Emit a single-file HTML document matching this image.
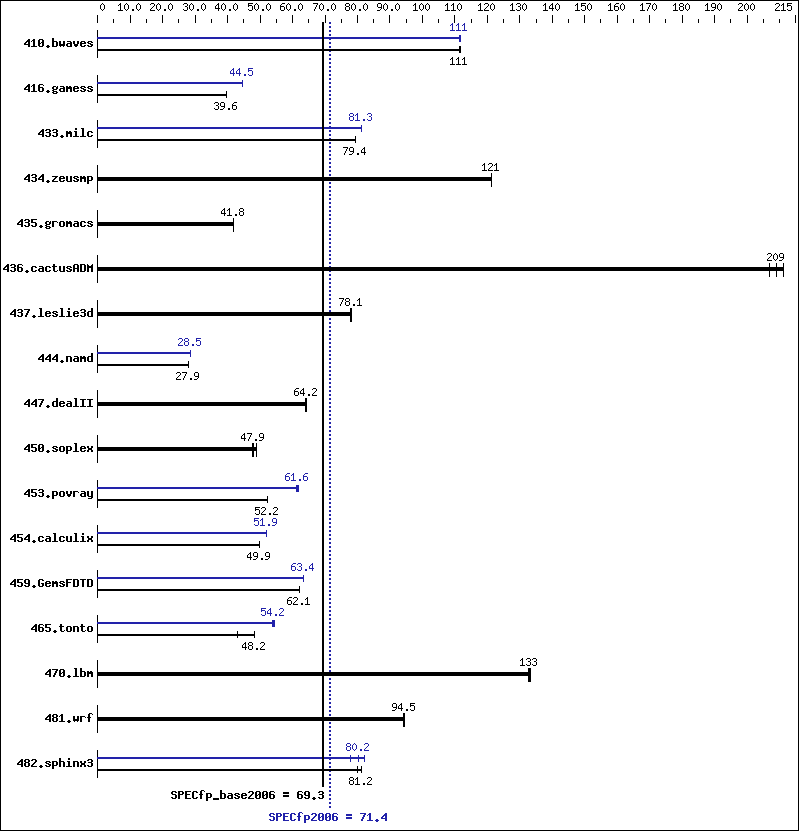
<!DOCTYPE html>
<html lang="en">
<head>
<meta charset="utf-8">
<title>SPECfp2006 result graph</title>
<style>
html,body{margin:0;padding:0;background:#fff;}
body{width:799px;height:831px;overflow:hidden;position:relative;font-family:"Liberation Mono",monospace;}
#chart{position:absolute;left:0;top:0;width:799px;height:831px;box-sizing:border-box;border:1px solid #000;background:#fff;}
#chart svg{position:absolute;left:-1px;top:-1px;display:block;}
#chart span{position:absolute;margin-left:-1px;margin-top:-1px;white-space:pre;color:transparent;line-height:13px;height:13px;}
.ts{font-size:10px;}
.tb{font-size:11.66px;font-weight:bold;}
</style>
</head>
<body>
<div id="chart">
<svg width="799" height="831" viewBox="0 0 799 831" shape-rendering="crispEdges">
<defs>
<path id="s0" d="M2 2h1v1h-1zM1 3h1v1h-1zM3 3h1v1h-1zM0 4h1v1h-1zM4 4h1v1h-1zM0 5h1v1h-1zM4 5h1v1h-1zM0 6h1v1h-1zM4 6h1v1h-1zM0 7h1v1h-1zM4 7h1v1h-1zM1 8h1v1h-1zM3 8h1v1h-1zM2 9h1v1h-1z"/>
<path id="s1" d="M2 2h1v1h-1zM1 3h2v1h-2zM0 4h1v1h-1zM2 4h1v1h-1zM2 5h1v1h-1zM2 6h1v1h-1zM2 7h1v1h-1zM2 8h1v1h-1zM0 9h5v1h-5z"/>
<path id="s2" d="M2 8h2v1h-2zM2 9h2v1h-2z"/>
<path id="s3" d="M1 2h3v1h-3zM0 3h1v1h-1zM4 3h1v1h-1zM4 4h1v1h-1zM3 5h1v1h-1zM2 6h1v1h-1zM1 7h1v1h-1zM0 8h1v1h-1zM0 9h5v1h-5z"/>
<path id="s4" d="M1 2h3v1h-3zM0 3h1v1h-1zM4 3h1v1h-1zM4 4h1v1h-1zM2 5h2v1h-2zM4 6h1v1h-1zM4 7h1v1h-1zM0 8h1v1h-1zM4 8h1v1h-1zM1 9h3v1h-3z"/>
<path id="s5" d="M3 2h1v1h-1zM2 3h2v1h-2zM1 4h1v1h-1zM3 4h1v1h-1zM0 5h1v1h-1zM3 5h1v1h-1zM0 6h1v1h-1zM3 6h1v1h-1zM0 7h5v1h-5zM3 8h1v1h-1zM3 9h1v1h-1z"/>
<path id="s6" d="M0 2h5v1h-5zM0 3h1v1h-1zM0 4h4v1h-4zM0 5h1v1h-1zM4 5h1v1h-1zM4 6h1v1h-1zM4 7h1v1h-1zM0 8h1v1h-1zM4 8h1v1h-1zM1 9h3v1h-3z"/>
<path id="s7" d="M2 2h3v1h-3zM1 3h1v1h-1zM0 4h1v1h-1zM0 5h4v1h-4zM0 6h1v1h-1zM4 6h1v1h-1zM0 7h1v1h-1zM4 7h1v1h-1zM0 8h1v1h-1zM4 8h1v1h-1zM1 9h3v1h-3z"/>
<path id="s8" d="M0 2h5v1h-5zM4 3h1v1h-1zM3 4h1v1h-1zM3 5h1v1h-1zM2 6h1v1h-1zM2 7h1v1h-1zM1 8h1v1h-1zM1 9h1v1h-1z"/>
<path id="s9" d="M1 2h3v1h-3zM0 3h1v1h-1zM4 3h1v1h-1zM0 4h1v1h-1zM4 4h1v1h-1zM1 5h3v1h-3zM0 6h1v1h-1zM4 6h1v1h-1zM0 7h1v1h-1zM4 7h1v1h-1zM0 8h1v1h-1zM4 8h1v1h-1zM1 9h3v1h-3z"/>
<path id="s10" d="M1 2h3v1h-3zM0 3h1v1h-1zM4 3h1v1h-1zM0 4h1v1h-1zM4 4h1v1h-1zM0 5h1v1h-1zM4 5h1v1h-1zM1 6h4v1h-4zM4 7h1v1h-1zM3 8h1v1h-1zM0 9h3v1h-3z"/>
<path id="b11" d="M4 3h2v1h-2zM3 4h3v1h-3zM2 5h4v1h-4zM1 6h2v1h-2zM4 6h2v1h-2zM0 7h2v1h-2zM4 7h2v1h-2zM0 8h6v1h-6zM4 9h2v1h-2zM4 10h2v1h-2z"/>
<path id="b12" d="M2 3h2v1h-2zM1 4h3v1h-3zM0 5h1v1h-1zM2 5h2v1h-2zM2 6h2v1h-2zM2 7h2v1h-2zM2 8h2v1h-2zM2 9h2v1h-2zM0 10h6v1h-6z"/>
<path id="b13" d="M1 3h4v1h-4zM0 4h2v1h-2zM4 4h2v1h-2zM0 5h2v1h-2zM4 5h2v1h-2zM0 6h2v1h-2zM3 6h3v1h-3zM0 7h3v1h-3zM4 7h2v1h-2zM0 8h2v1h-2zM4 8h2v1h-2zM0 9h2v1h-2zM4 9h2v1h-2zM1 10h4v1h-4z"/>
<path id="b14" d="M2 9h2v1h-2zM1 10h4v1h-4zM2 11h2v1h-2z"/>
<path id="b15" d="M0 2h2v1h-2zM0 3h2v1h-2zM0 4h2v1h-2zM0 5h5v1h-5zM0 6h2v1h-2zM4 6h2v1h-2zM0 7h2v1h-2zM4 7h2v1h-2zM0 8h2v1h-2zM4 8h2v1h-2zM0 9h2v1h-2zM4 9h2v1h-2zM0 10h5v1h-5z"/>
<path id="b16" d="M0 5h2v1h-2zM4 5h2v1h-2zM0 6h2v1h-2zM4 6h2v1h-2zM0 7h2v1h-2zM4 7h2v1h-2zM0 8h6v1h-6zM0 9h6v1h-6zM1 10h1v1h-1zM4 10h1v1h-1z"/>
<path id="b17" d="M1 5h4v1h-4zM4 6h2v1h-2zM1 7h5v1h-5zM0 8h2v1h-2zM4 8h2v1h-2zM0 9h2v1h-2zM4 9h2v1h-2zM1 10h5v1h-5z"/>
<path id="b18" d="M0 5h2v1h-2zM4 5h2v1h-2zM0 6h2v1h-2zM4 6h2v1h-2zM0 7h2v1h-2zM4 7h2v1h-2zM1 8h4v1h-4zM1 9h4v1h-4zM2 10h2v1h-2z"/>
<path id="b19" d="M1 5h4v1h-4zM0 6h2v1h-2zM4 6h2v1h-2zM0 7h6v1h-6zM0 8h2v1h-2zM0 9h2v1h-2zM4 9h2v1h-2zM1 10h4v1h-4z"/>
<path id="b20" d="M1 5h4v1h-4zM0 6h2v1h-2zM4 6h2v1h-2zM1 7h3v1h-3zM3 8h3v1h-3zM0 9h2v1h-2zM4 9h2v1h-2zM1 10h4v1h-4z"/>
<path id="b21" d="M1 3h4v1h-4zM0 4h2v1h-2zM5 4h1v1h-1zM0 5h2v1h-2zM0 6h5v1h-5zM0 7h2v1h-2zM4 7h2v1h-2zM0 8h2v1h-2zM4 8h2v1h-2zM0 9h2v1h-2zM4 9h2v1h-2zM1 10h4v1h-4z"/>
<path id="b22" d="M1 5h3v1h-3zM5 5h1v1h-1zM0 6h2v1h-2zM4 6h2v1h-2zM0 7h2v1h-2zM4 7h2v1h-2zM1 8h4v1h-4zM0 9h2v1h-2zM1 10h4v1h-4zM0 11h2v1h-2zM4 11h2v1h-2zM1 12h4v1h-4z"/>
<path id="b23" d="M0 5h2v1h-2zM3 5h2v1h-2zM0 6h6v1h-6zM0 7h6v1h-6zM0 8h2v1h-2zM4 8h2v1h-2zM0 9h2v1h-2zM4 9h2v1h-2zM0 10h2v1h-2zM4 10h2v1h-2z"/>
<path id="b24" d="M1 3h4v1h-4zM0 4h2v1h-2zM4 4h2v1h-2zM4 5h2v1h-2zM1 6h4v1h-4zM4 7h2v1h-2zM4 8h2v1h-2zM0 9h2v1h-2zM4 9h2v1h-2zM1 10h4v1h-4z"/>
<path id="b25" d="M2 2h2v1h-2zM2 3h2v1h-2zM1 5h3v1h-3zM2 6h2v1h-2zM2 7h2v1h-2zM2 8h2v1h-2zM2 9h2v1h-2zM0 10h6v1h-6z"/>
<path id="b26" d="M1 2h3v1h-3zM2 3h2v1h-2zM2 4h2v1h-2zM2 5h2v1h-2zM2 6h2v1h-2zM2 7h2v1h-2zM2 8h2v1h-2zM2 9h2v1h-2zM0 10h6v1h-6z"/>
<path id="b27" d="M1 5h4v1h-4zM0 6h2v1h-2zM4 6h2v1h-2zM0 7h2v1h-2zM0 8h2v1h-2zM0 9h2v1h-2zM4 9h2v1h-2zM1 10h4v1h-4z"/>
<path id="b28" d="M0 5h6v1h-6zM3 6h2v1h-2zM2 7h2v1h-2zM1 8h2v1h-2zM0 9h2v1h-2zM0 10h6v1h-6z"/>
<path id="b29" d="M0 5h2v1h-2zM4 5h2v1h-2zM0 6h2v1h-2zM4 6h2v1h-2zM0 7h2v1h-2zM4 7h2v1h-2zM0 8h2v1h-2zM4 8h2v1h-2zM0 9h2v1h-2zM4 9h2v1h-2zM1 10h5v1h-5z"/>
<path id="b30" d="M0 5h5v1h-5zM0 6h2v1h-2zM4 6h2v1h-2zM0 7h2v1h-2zM4 7h2v1h-2zM0 8h2v1h-2zM4 8h2v1h-2zM0 9h5v1h-5zM0 10h2v1h-2zM0 11h2v1h-2zM0 12h2v1h-2z"/>
<path id="b31" d="M0 3h6v1h-6zM0 4h2v1h-2zM0 5h2v1h-2zM0 6h5v1h-5zM4 7h2v1h-2zM4 8h2v1h-2zM0 9h2v1h-2zM4 9h2v1h-2zM1 10h4v1h-4z"/>
<path id="b32" d="M0 5h5v1h-5zM0 6h2v1h-2zM5 6h1v1h-1zM0 7h2v1h-2zM0 8h2v1h-2zM0 9h2v1h-2zM0 10h2v1h-2z"/>
<path id="b33" d="M1 5h4v1h-4zM0 6h2v1h-2zM4 6h2v1h-2zM0 7h2v1h-2zM4 7h2v1h-2zM0 8h2v1h-2zM4 8h2v1h-2zM0 9h2v1h-2zM4 9h2v1h-2zM1 10h4v1h-4z"/>
<path id="b34" d="M1 3h2v1h-2zM1 4h2v1h-2zM0 5h5v1h-5zM1 6h2v1h-2zM1 7h2v1h-2zM1 8h2v1h-2zM1 9h2v1h-2zM5 9h1v1h-1zM2 10h3v1h-3z"/>
<path id="b35" d="M1 3h4v1h-4zM0 4h2v1h-2zM4 4h2v1h-2zM0 5h2v1h-2zM4 5h2v1h-2zM0 6h2v1h-2zM4 6h2v1h-2zM0 7h6v1h-6zM0 8h2v1h-2zM4 8h2v1h-2zM0 9h2v1h-2zM4 9h2v1h-2zM0 10h2v1h-2zM4 10h2v1h-2z"/>
<path id="b36" d="M0 3h5v1h-5zM0 4h2v1h-2zM4 4h2v1h-2zM0 5h2v1h-2zM4 5h2v1h-2zM0 6h2v1h-2zM4 6h2v1h-2zM0 7h2v1h-2zM4 7h2v1h-2zM0 8h2v1h-2zM4 8h2v1h-2zM0 9h2v1h-2zM4 9h2v1h-2zM0 10h5v1h-5z"/>
<path id="b37" d="M0 3h1v1h-1zM5 3h1v1h-1zM0 4h2v1h-2zM4 4h2v1h-2zM0 5h6v1h-6zM0 6h6v1h-6zM0 7h2v1h-2zM4 7h2v1h-2zM0 8h2v1h-2zM4 8h2v1h-2zM0 9h2v1h-2zM4 9h2v1h-2zM0 10h2v1h-2zM4 10h2v1h-2z"/>
<path id="b38" d="M0 3h6v1h-6zM4 4h2v1h-2zM3 5h2v1h-2zM3 6h2v1h-2zM2 7h2v1h-2zM2 8h2v1h-2zM1 9h2v1h-2zM1 10h2v1h-2z"/>
<path id="b39" d="M4 2h2v1h-2zM4 3h2v1h-2zM4 4h2v1h-2zM1 5h5v1h-5zM0 6h2v1h-2zM4 6h2v1h-2zM0 7h2v1h-2zM4 7h2v1h-2zM0 8h2v1h-2zM4 8h2v1h-2zM0 9h2v1h-2zM4 9h2v1h-2zM1 10h5v1h-5z"/>
<path id="b40" d="M0 5h5v1h-5zM0 6h2v1h-2zM4 6h2v1h-2zM0 7h2v1h-2zM4 7h2v1h-2zM0 8h2v1h-2zM4 8h2v1h-2zM0 9h2v1h-2zM4 9h2v1h-2zM0 10h2v1h-2zM4 10h2v1h-2z"/>
<path id="b41" d="M0 3h6v1h-6zM2 4h2v1h-2zM2 5h2v1h-2zM2 6h2v1h-2zM2 7h2v1h-2zM2 8h2v1h-2zM2 9h2v1h-2zM0 10h6v1h-6z"/>
<path id="b42" d="M0 5h2v1h-2zM4 5h2v1h-2zM0 6h2v1h-2zM4 6h2v1h-2zM1 7h4v1h-4zM1 8h4v1h-4zM0 9h2v1h-2zM4 9h2v1h-2zM0 10h2v1h-2zM4 10h2v1h-2z"/>
<path id="b43" d="M0 5h2v1h-2zM4 5h2v1h-2zM0 6h2v1h-2zM4 6h2v1h-2zM0 7h2v1h-2zM4 7h2v1h-2zM0 8h2v1h-2zM4 8h2v1h-2zM0 9h2v1h-2zM4 9h2v1h-2zM1 10h5v1h-5zM4 11h2v1h-2zM1 12h4v1h-4z"/>
<path id="b44" d="M1 3h4v1h-4zM0 4h2v1h-2zM4 4h2v1h-2zM0 5h2v1h-2zM4 5h2v1h-2zM0 6h2v1h-2zM4 6h2v1h-2zM1 7h5v1h-5zM4 8h2v1h-2zM0 9h2v1h-2zM4 9h2v1h-2zM1 10h4v1h-4z"/>
<path id="b45" d="M1 3h4v1h-4zM0 4h2v1h-2zM4 4h2v1h-2zM0 5h2v1h-2zM0 6h2v1h-2zM0 7h2v1h-2zM3 7h3v1h-3zM0 8h2v1h-2zM4 8h2v1h-2zM0 9h2v1h-2zM4 9h2v1h-2zM1 10h4v1h-4z"/>
<path id="b46" d="M0 3h6v1h-6zM0 4h2v1h-2zM0 5h2v1h-2zM0 6h5v1h-5zM0 7h2v1h-2zM0 8h2v1h-2zM0 9h2v1h-2zM0 10h2v1h-2z"/>
<path id="b47" d="M0 3h6v1h-6zM2 4h2v1h-2zM2 5h2v1h-2zM2 6h2v1h-2zM2 7h2v1h-2zM2 8h2v1h-2zM2 9h2v1h-2zM2 10h2v1h-2z"/>
<path id="b48" d="M1 3h4v1h-4zM0 4h2v1h-2zM4 4h2v1h-2zM0 5h2v1h-2zM4 5h2v1h-2zM1 6h4v1h-4zM0 7h2v1h-2zM4 7h2v1h-2zM0 8h2v1h-2zM4 8h2v1h-2zM0 9h2v1h-2zM4 9h2v1h-2zM1 10h4v1h-4z"/>
<path id="b49" d="M2 2h3v1h-3zM1 3h2v1h-2zM5 3h1v1h-1zM1 4h2v1h-2zM1 5h2v1h-2zM0 6h4v1h-4zM1 7h2v1h-2zM1 8h2v1h-2zM1 9h2v1h-2zM1 10h2v1h-2z"/>
<path id="b50" d="M1 3h4v1h-4zM0 4h2v1h-2zM4 4h2v1h-2zM4 5h2v1h-2zM3 6h2v1h-2zM2 7h2v1h-2zM1 8h2v1h-2zM0 9h2v1h-2zM0 10h6v1h-6z"/>
<path id="b51" d="M0 2h2v1h-2zM0 3h2v1h-2zM0 4h2v1h-2zM0 5h5v1h-5zM0 6h2v1h-2zM4 6h2v1h-2zM0 7h2v1h-2zM4 7h2v1h-2zM0 8h2v1h-2zM4 8h2v1h-2zM0 9h2v1h-2zM4 9h2v1h-2zM0 10h2v1h-2zM4 10h2v1h-2z"/>
<path id="b52" d="M1 3h4v1h-4zM0 4h2v1h-2zM4 4h2v1h-2zM0 5h2v1h-2zM1 6h4v1h-4zM4 7h2v1h-2zM4 8h2v1h-2zM0 9h2v1h-2zM4 9h2v1h-2zM1 10h4v1h-4z"/>
<path id="b53" d="M0 3h5v1h-5zM0 4h2v1h-2zM4 4h2v1h-2zM0 5h2v1h-2zM4 5h2v1h-2zM0 6h5v1h-5zM0 7h2v1h-2zM0 8h2v1h-2zM0 9h2v1h-2zM0 10h2v1h-2z"/>
<path id="b54" d="M0 3h6v1h-6zM0 4h2v1h-2zM0 5h2v1h-2zM0 6h5v1h-5zM0 7h2v1h-2zM0 8h2v1h-2zM0 9h2v1h-2zM0 10h6v1h-6z"/>
<path id="b55" d="M1 3h4v1h-4zM0 4h2v1h-2zM4 4h2v1h-2zM0 5h2v1h-2zM0 6h2v1h-2zM0 7h2v1h-2zM0 8h2v1h-2zM0 9h2v1h-2zM4 9h2v1h-2zM1 10h4v1h-4z"/>
<path id="b56" d="M0 10h6v1h-6zM0 11h6v1h-6z"/>
<path id="b57" d="M0 4h6v1h-6zM0 5h6v1h-6zM0 7h6v1h-6zM0 8h6v1h-6z"/>
</defs>
<rect x="97" y="15" width="1" height="8" fill="#000000"/>
<g fill="#000000"><use href="#s0" x="100" y="1"/></g>
<rect x="113" y="19" width="1" height="4" fill="#000000"/>
<rect x="130" y="15" width="1" height="8" fill="#000000"/>
<g fill="#000000"><use href="#s1" x="118" y="1"/><use href="#s0" x="124" y="1"/><use href="#s2" x="130" y="1"/><use href="#s0" x="136" y="1"/></g>
<rect x="146" y="19" width="1" height="4" fill="#000000"/>
<rect x="162" y="15" width="1" height="8" fill="#000000"/>
<g fill="#000000"><use href="#s3" x="150" y="1"/><use href="#s0" x="156" y="1"/><use href="#s2" x="162" y="1"/><use href="#s0" x="168" y="1"/></g>
<rect x="178" y="19" width="1" height="4" fill="#000000"/>
<rect x="195" y="15" width="1" height="8" fill="#000000"/>
<g fill="#000000"><use href="#s4" x="183" y="1"/><use href="#s0" x="189" y="1"/><use href="#s2" x="195" y="1"/><use href="#s0" x="201" y="1"/></g>
<rect x="211" y="19" width="1" height="4" fill="#000000"/>
<rect x="227" y="15" width="1" height="8" fill="#000000"/>
<g fill="#000000"><use href="#s5" x="215" y="1"/><use href="#s0" x="221" y="1"/><use href="#s2" x="227" y="1"/><use href="#s0" x="233" y="1"/></g>
<rect x="243" y="19" width="1" height="4" fill="#000000"/>
<rect x="260" y="15" width="1" height="8" fill="#000000"/>
<g fill="#000000"><use href="#s6" x="248" y="1"/><use href="#s0" x="254" y="1"/><use href="#s2" x="260" y="1"/><use href="#s0" x="266" y="1"/></g>
<rect x="276" y="19" width="1" height="4" fill="#000000"/>
<rect x="292" y="15" width="1" height="8" fill="#000000"/>
<g fill="#000000"><use href="#s7" x="280" y="1"/><use href="#s0" x="286" y="1"/><use href="#s2" x="292" y="1"/><use href="#s0" x="298" y="1"/></g>
<rect x="308" y="19" width="1" height="4" fill="#000000"/>
<rect x="325" y="15" width="1" height="8" fill="#000000"/>
<g fill="#000000"><use href="#s8" x="313" y="1"/><use href="#s0" x="319" y="1"/><use href="#s2" x="325" y="1"/><use href="#s0" x="331" y="1"/></g>
<rect x="341" y="19" width="1" height="4" fill="#000000"/>
<rect x="357" y="15" width="1" height="8" fill="#000000"/>
<g fill="#000000"><use href="#s9" x="345" y="1"/><use href="#s0" x="351" y="1"/><use href="#s2" x="357" y="1"/><use href="#s0" x="363" y="1"/></g>
<rect x="373" y="19" width="1" height="4" fill="#000000"/>
<rect x="389" y="15" width="1" height="8" fill="#000000"/>
<g fill="#000000"><use href="#s10" x="377" y="1"/><use href="#s0" x="383" y="1"/><use href="#s2" x="389" y="1"/><use href="#s0" x="395" y="1"/></g>
<rect x="406" y="19" width="1" height="4" fill="#000000"/>
<rect x="422" y="15" width="1" height="8" fill="#000000"/>
<g fill="#000000"><use href="#s1" x="413" y="1"/><use href="#s0" x="419" y="1"/><use href="#s0" x="425" y="1"/></g>
<rect x="438" y="19" width="1" height="4" fill="#000000"/>
<rect x="454" y="15" width="1" height="8" fill="#000000"/>
<g fill="#000000"><use href="#s1" x="445" y="1"/><use href="#s1" x="451" y="1"/><use href="#s0" x="457" y="1"/></g>
<rect x="471" y="19" width="1" height="4" fill="#000000"/>
<rect x="487" y="15" width="1" height="8" fill="#000000"/>
<g fill="#000000"><use href="#s1" x="478" y="1"/><use href="#s3" x="484" y="1"/><use href="#s0" x="490" y="1"/></g>
<rect x="503" y="19" width="1" height="4" fill="#000000"/>
<rect x="519" y="15" width="1" height="8" fill="#000000"/>
<g fill="#000000"><use href="#s1" x="510" y="1"/><use href="#s4" x="516" y="1"/><use href="#s0" x="522" y="1"/></g>
<rect x="536" y="19" width="1" height="4" fill="#000000"/>
<rect x="552" y="15" width="1" height="8" fill="#000000"/>
<g fill="#000000"><use href="#s1" x="543" y="1"/><use href="#s5" x="549" y="1"/><use href="#s0" x="555" y="1"/></g>
<rect x="568" y="19" width="1" height="4" fill="#000000"/>
<rect x="584" y="15" width="1" height="8" fill="#000000"/>
<g fill="#000000"><use href="#s1" x="575" y="1"/><use href="#s6" x="581" y="1"/><use href="#s0" x="587" y="1"/></g>
<rect x="600" y="19" width="1" height="4" fill="#000000"/>
<rect x="617" y="15" width="1" height="8" fill="#000000"/>
<g fill="#000000"><use href="#s1" x="608" y="1"/><use href="#s7" x="614" y="1"/><use href="#s0" x="620" y="1"/></g>
<rect x="633" y="19" width="1" height="4" fill="#000000"/>
<rect x="649" y="15" width="1" height="8" fill="#000000"/>
<g fill="#000000"><use href="#s1" x="640" y="1"/><use href="#s8" x="646" y="1"/><use href="#s0" x="652" y="1"/></g>
<rect x="665" y="19" width="1" height="4" fill="#000000"/>
<rect x="682" y="15" width="1" height="8" fill="#000000"/>
<g fill="#000000"><use href="#s1" x="673" y="1"/><use href="#s9" x="679" y="1"/><use href="#s0" x="685" y="1"/></g>
<rect x="698" y="19" width="1" height="4" fill="#000000"/>
<rect x="714" y="15" width="1" height="8" fill="#000000"/>
<g fill="#000000"><use href="#s1" x="705" y="1"/><use href="#s10" x="711" y="1"/><use href="#s0" x="717" y="1"/></g>
<rect x="730" y="19" width="1" height="4" fill="#000000"/>
<rect x="747" y="15" width="1" height="8" fill="#000000"/>
<g fill="#000000"><use href="#s3" x="738" y="1"/><use href="#s0" x="744" y="1"/><use href="#s0" x="750" y="1"/></g>
<rect x="763" y="19" width="1" height="4" fill="#000000"/>
<rect x="779" y="19" width="1" height="4" fill="#000000"/>
<rect x="795" y="15" width="1" height="8" fill="#000000"/>
<g fill="#000000"><use href="#s3" x="775" y="1"/><use href="#s1" x="781" y="1"/><use href="#s6" x="787" y="1"/></g>
<rect x="329" y="22" width="2" height="2" fill="#2222aa"/>
<rect x="329" y="26" width="2" height="2" fill="#2222aa"/>
<rect x="329" y="30" width="2" height="2" fill="#2222aa"/>
<rect x="329" y="34" width="2" height="2" fill="#2222aa"/>
<rect x="329" y="38" width="2" height="2" fill="#2222aa"/>
<rect x="329" y="42" width="2" height="2" fill="#2222aa"/>
<rect x="329" y="46" width="2" height="2" fill="#2222aa"/>
<rect x="329" y="50" width="2" height="2" fill="#2222aa"/>
<rect x="329" y="54" width="2" height="2" fill="#2222aa"/>
<rect x="329" y="58" width="2" height="2" fill="#2222aa"/>
<rect x="329" y="62" width="2" height="2" fill="#2222aa"/>
<rect x="329" y="66" width="2" height="2" fill="#2222aa"/>
<rect x="329" y="70" width="2" height="2" fill="#2222aa"/>
<rect x="329" y="74" width="2" height="2" fill="#2222aa"/>
<rect x="329" y="78" width="2" height="2" fill="#2222aa"/>
<rect x="329" y="82" width="2" height="2" fill="#2222aa"/>
<rect x="329" y="86" width="2" height="2" fill="#2222aa"/>
<rect x="329" y="90" width="2" height="2" fill="#2222aa"/>
<rect x="329" y="94" width="2" height="2" fill="#2222aa"/>
<rect x="329" y="98" width="2" height="2" fill="#2222aa"/>
<rect x="329" y="102" width="2" height="2" fill="#2222aa"/>
<rect x="329" y="106" width="2" height="2" fill="#2222aa"/>
<rect x="329" y="110" width="2" height="2" fill="#2222aa"/>
<rect x="329" y="114" width="2" height="2" fill="#2222aa"/>
<rect x="329" y="118" width="2" height="2" fill="#2222aa"/>
<rect x="329" y="122" width="2" height="2" fill="#2222aa"/>
<rect x="329" y="126" width="2" height="2" fill="#2222aa"/>
<rect x="329" y="130" width="2" height="2" fill="#2222aa"/>
<rect x="329" y="134" width="2" height="2" fill="#2222aa"/>
<rect x="329" y="138" width="2" height="2" fill="#2222aa"/>
<rect x="329" y="142" width="2" height="2" fill="#2222aa"/>
<rect x="329" y="146" width="2" height="2" fill="#2222aa"/>
<rect x="329" y="150" width="2" height="2" fill="#2222aa"/>
<rect x="329" y="154" width="2" height="2" fill="#2222aa"/>
<rect x="329" y="158" width="2" height="2" fill="#2222aa"/>
<rect x="329" y="162" width="2" height="2" fill="#2222aa"/>
<rect x="329" y="166" width="2" height="2" fill="#2222aa"/>
<rect x="329" y="170" width="2" height="2" fill="#2222aa"/>
<rect x="329" y="174" width="2" height="2" fill="#2222aa"/>
<rect x="329" y="178" width="2" height="2" fill="#2222aa"/>
<rect x="329" y="182" width="2" height="2" fill="#2222aa"/>
<rect x="329" y="186" width="2" height="2" fill="#2222aa"/>
<rect x="329" y="190" width="2" height="2" fill="#2222aa"/>
<rect x="329" y="194" width="2" height="2" fill="#2222aa"/>
<rect x="329" y="198" width="2" height="2" fill="#2222aa"/>
<rect x="329" y="202" width="2" height="2" fill="#2222aa"/>
<rect x="329" y="206" width="2" height="2" fill="#2222aa"/>
<rect x="329" y="210" width="2" height="2" fill="#2222aa"/>
<rect x="329" y="214" width="2" height="2" fill="#2222aa"/>
<rect x="329" y="218" width="2" height="2" fill="#2222aa"/>
<rect x="329" y="222" width="2" height="2" fill="#2222aa"/>
<rect x="329" y="226" width="2" height="2" fill="#2222aa"/>
<rect x="329" y="230" width="2" height="2" fill="#2222aa"/>
<rect x="329" y="234" width="2" height="2" fill="#2222aa"/>
<rect x="329" y="238" width="2" height="2" fill="#2222aa"/>
<rect x="329" y="242" width="2" height="2" fill="#2222aa"/>
<rect x="329" y="246" width="2" height="2" fill="#2222aa"/>
<rect x="329" y="250" width="2" height="2" fill="#2222aa"/>
<rect x="329" y="254" width="2" height="2" fill="#2222aa"/>
<rect x="329" y="258" width="2" height="2" fill="#2222aa"/>
<rect x="329" y="262" width="2" height="2" fill="#2222aa"/>
<rect x="329" y="266" width="2" height="2" fill="#2222aa"/>
<rect x="329" y="270" width="2" height="2" fill="#2222aa"/>
<rect x="329" y="274" width="2" height="2" fill="#2222aa"/>
<rect x="329" y="278" width="2" height="2" fill="#2222aa"/>
<rect x="329" y="282" width="2" height="2" fill="#2222aa"/>
<rect x="329" y="286" width="2" height="2" fill="#2222aa"/>
<rect x="329" y="290" width="2" height="2" fill="#2222aa"/>
<rect x="329" y="294" width="2" height="2" fill="#2222aa"/>
<rect x="329" y="298" width="2" height="2" fill="#2222aa"/>
<rect x="329" y="302" width="2" height="2" fill="#2222aa"/>
<rect x="329" y="306" width="2" height="2" fill="#2222aa"/>
<rect x="329" y="310" width="2" height="2" fill="#2222aa"/>
<rect x="329" y="314" width="2" height="2" fill="#2222aa"/>
<rect x="329" y="318" width="2" height="2" fill="#2222aa"/>
<rect x="329" y="322" width="2" height="2" fill="#2222aa"/>
<rect x="329" y="326" width="2" height="2" fill="#2222aa"/>
<rect x="329" y="330" width="2" height="2" fill="#2222aa"/>
<rect x="329" y="334" width="2" height="2" fill="#2222aa"/>
<rect x="329" y="338" width="2" height="2" fill="#2222aa"/>
<rect x="329" y="342" width="2" height="2" fill="#2222aa"/>
<rect x="329" y="346" width="2" height="2" fill="#2222aa"/>
<rect x="329" y="350" width="2" height="2" fill="#2222aa"/>
<rect x="329" y="354" width="2" height="2" fill="#2222aa"/>
<rect x="329" y="358" width="2" height="2" fill="#2222aa"/>
<rect x="329" y="362" width="2" height="2" fill="#2222aa"/>
<rect x="329" y="366" width="2" height="2" fill="#2222aa"/>
<rect x="329" y="370" width="2" height="2" fill="#2222aa"/>
<rect x="329" y="374" width="2" height="2" fill="#2222aa"/>
<rect x="329" y="378" width="2" height="2" fill="#2222aa"/>
<rect x="329" y="382" width="2" height="2" fill="#2222aa"/>
<rect x="329" y="386" width="2" height="2" fill="#2222aa"/>
<rect x="329" y="390" width="2" height="2" fill="#2222aa"/>
<rect x="329" y="394" width="2" height="2" fill="#2222aa"/>
<rect x="329" y="398" width="2" height="2" fill="#2222aa"/>
<rect x="329" y="402" width="2" height="2" fill="#2222aa"/>
<rect x="329" y="406" width="2" height="2" fill="#2222aa"/>
<rect x="329" y="410" width="2" height="2" fill="#2222aa"/>
<rect x="329" y="414" width="2" height="2" fill="#2222aa"/>
<rect x="329" y="418" width="2" height="2" fill="#2222aa"/>
<rect x="329" y="422" width="2" height="2" fill="#2222aa"/>
<rect x="329" y="426" width="2" height="2" fill="#2222aa"/>
<rect x="329" y="430" width="2" height="2" fill="#2222aa"/>
<rect x="329" y="434" width="2" height="2" fill="#2222aa"/>
<rect x="329" y="438" width="2" height="2" fill="#2222aa"/>
<rect x="329" y="442" width="2" height="2" fill="#2222aa"/>
<rect x="329" y="446" width="2" height="2" fill="#2222aa"/>
<rect x="329" y="450" width="2" height="2" fill="#2222aa"/>
<rect x="329" y="454" width="2" height="2" fill="#2222aa"/>
<rect x="329" y="458" width="2" height="2" fill="#2222aa"/>
<rect x="329" y="462" width="2" height="2" fill="#2222aa"/>
<rect x="329" y="466" width="2" height="2" fill="#2222aa"/>
<rect x="329" y="470" width="2" height="2" fill="#2222aa"/>
<rect x="329" y="474" width="2" height="2" fill="#2222aa"/>
<rect x="329" y="478" width="2" height="2" fill="#2222aa"/>
<rect x="329" y="482" width="2" height="2" fill="#2222aa"/>
<rect x="329" y="486" width="2" height="2" fill="#2222aa"/>
<rect x="329" y="490" width="2" height="2" fill="#2222aa"/>
<rect x="329" y="494" width="2" height="2" fill="#2222aa"/>
<rect x="329" y="498" width="2" height="2" fill="#2222aa"/>
<rect x="329" y="502" width="2" height="2" fill="#2222aa"/>
<rect x="329" y="506" width="2" height="2" fill="#2222aa"/>
<rect x="329" y="510" width="2" height="2" fill="#2222aa"/>
<rect x="329" y="514" width="2" height="2" fill="#2222aa"/>
<rect x="329" y="518" width="2" height="2" fill="#2222aa"/>
<rect x="329" y="522" width="2" height="2" fill="#2222aa"/>
<rect x="329" y="526" width="2" height="2" fill="#2222aa"/>
<rect x="329" y="530" width="2" height="2" fill="#2222aa"/>
<rect x="329" y="534" width="2" height="2" fill="#2222aa"/>
<rect x="329" y="538" width="2" height="2" fill="#2222aa"/>
<rect x="329" y="542" width="2" height="2" fill="#2222aa"/>
<rect x="329" y="546" width="2" height="2" fill="#2222aa"/>
<rect x="329" y="550" width="2" height="2" fill="#2222aa"/>
<rect x="329" y="554" width="2" height="2" fill="#2222aa"/>
<rect x="329" y="558" width="2" height="2" fill="#2222aa"/>
<rect x="329" y="562" width="2" height="2" fill="#2222aa"/>
<rect x="329" y="566" width="2" height="2" fill="#2222aa"/>
<rect x="329" y="570" width="2" height="2" fill="#2222aa"/>
<rect x="329" y="574" width="2" height="2" fill="#2222aa"/>
<rect x="329" y="578" width="2" height="2" fill="#2222aa"/>
<rect x="329" y="582" width="2" height="2" fill="#2222aa"/>
<rect x="329" y="586" width="2" height="2" fill="#2222aa"/>
<rect x="329" y="590" width="2" height="2" fill="#2222aa"/>
<rect x="329" y="594" width="2" height="2" fill="#2222aa"/>
<rect x="329" y="598" width="2" height="2" fill="#2222aa"/>
<rect x="329" y="602" width="2" height="2" fill="#2222aa"/>
<rect x="329" y="606" width="2" height="2" fill="#2222aa"/>
<rect x="329" y="610" width="2" height="2" fill="#2222aa"/>
<rect x="329" y="614" width="2" height="2" fill="#2222aa"/>
<rect x="329" y="618" width="2" height="2" fill="#2222aa"/>
<rect x="329" y="622" width="2" height="2" fill="#2222aa"/>
<rect x="329" y="626" width="2" height="2" fill="#2222aa"/>
<rect x="329" y="630" width="2" height="2" fill="#2222aa"/>
<rect x="329" y="634" width="2" height="2" fill="#2222aa"/>
<rect x="329" y="638" width="2" height="2" fill="#2222aa"/>
<rect x="329" y="642" width="2" height="2" fill="#2222aa"/>
<rect x="329" y="646" width="2" height="2" fill="#2222aa"/>
<rect x="329" y="650" width="2" height="2" fill="#2222aa"/>
<rect x="329" y="654" width="2" height="2" fill="#2222aa"/>
<rect x="329" y="658" width="2" height="2" fill="#2222aa"/>
<rect x="329" y="662" width="2" height="2" fill="#2222aa"/>
<rect x="329" y="666" width="2" height="2" fill="#2222aa"/>
<rect x="329" y="670" width="2" height="2" fill="#2222aa"/>
<rect x="329" y="674" width="2" height="2" fill="#2222aa"/>
<rect x="329" y="678" width="2" height="2" fill="#2222aa"/>
<rect x="329" y="682" width="2" height="2" fill="#2222aa"/>
<rect x="329" y="686" width="2" height="2" fill="#2222aa"/>
<rect x="329" y="690" width="2" height="2" fill="#2222aa"/>
<rect x="329" y="694" width="2" height="2" fill="#2222aa"/>
<rect x="329" y="698" width="2" height="2" fill="#2222aa"/>
<rect x="329" y="702" width="2" height="2" fill="#2222aa"/>
<rect x="329" y="706" width="2" height="2" fill="#2222aa"/>
<rect x="329" y="710" width="2" height="2" fill="#2222aa"/>
<rect x="329" y="714" width="2" height="2" fill="#2222aa"/>
<rect x="329" y="718" width="2" height="2" fill="#2222aa"/>
<rect x="329" y="722" width="2" height="2" fill="#2222aa"/>
<rect x="329" y="726" width="2" height="2" fill="#2222aa"/>
<rect x="329" y="730" width="2" height="2" fill="#2222aa"/>
<rect x="329" y="734" width="2" height="2" fill="#2222aa"/>
<rect x="329" y="738" width="2" height="2" fill="#2222aa"/>
<rect x="329" y="742" width="2" height="2" fill="#2222aa"/>
<rect x="329" y="746" width="2" height="2" fill="#2222aa"/>
<rect x="329" y="750" width="2" height="2" fill="#2222aa"/>
<rect x="329" y="754" width="2" height="2" fill="#2222aa"/>
<rect x="329" y="758" width="2" height="2" fill="#2222aa"/>
<rect x="329" y="762" width="2" height="2" fill="#2222aa"/>
<rect x="329" y="766" width="2" height="2" fill="#2222aa"/>
<rect x="329" y="770" width="2" height="2" fill="#2222aa"/>
<rect x="329" y="774" width="2" height="2" fill="#2222aa"/>
<rect x="329" y="778" width="2" height="2" fill="#2222aa"/>
<rect x="329" y="782" width="2" height="2" fill="#2222aa"/>
<rect x="329" y="786" width="2" height="2" fill="#2222aa"/>
<rect x="329" y="790" width="2" height="2" fill="#2222aa"/>
<rect x="329" y="794" width="2" height="2" fill="#2222aa"/>
<rect x="329" y="798" width="2" height="2" fill="#2222aa"/>
<rect x="329" y="802" width="2" height="2" fill="#2222aa"/>
<rect x="329" y="806" width="2" height="2" fill="#2222aa"/>
<rect x="97" y="30" width="1" height="28" fill="#000000"/>
<g fill="#000000"><use href="#b11" x="24" y="36"/><use href="#b12" x="31" y="36"/><use href="#b13" x="38" y="36"/><use href="#b14" x="45" y="36"/><use href="#b15" x="52" y="36"/><use href="#b16" x="59" y="36"/><use href="#b17" x="66" y="36"/><use href="#b18" x="73" y="36"/><use href="#b19" x="80" y="36"/><use href="#b20" x="87" y="36"/></g>
<g fill="#2222aa"><use href="#s1" x="450" y="21"/><use href="#s1" x="456" y="21"/><use href="#s1" x="462" y="21"/></g>
<g fill="#000000"><use href="#s1" x="450" y="55"/><use href="#s1" x="456" y="55"/><use href="#s1" x="462" y="55"/></g>
<rect x="97" y="75" width="1" height="28" fill="#000000"/>
<g fill="#000000"><use href="#b11" x="24" y="81"/><use href="#b12" x="31" y="81"/><use href="#b21" x="38" y="81"/><use href="#b14" x="45" y="81"/><use href="#b22" x="52" y="81"/><use href="#b17" x="59" y="81"/><use href="#b23" x="66" y="81"/><use href="#b19" x="73" y="81"/><use href="#b20" x="80" y="81"/><use href="#b20" x="87" y="81"/></g>
<g fill="#2222aa"><use href="#s5" x="230" y="66"/><use href="#s5" x="236" y="66"/><use href="#s2" x="242" y="66"/><use href="#s6" x="248" y="66"/></g>
<g fill="#000000"><use href="#s4" x="214" y="100"/><use href="#s10" x="220" y="100"/><use href="#s2" x="226" y="100"/><use href="#s7" x="232" y="100"/></g>
<rect x="97" y="120" width="1" height="28" fill="#000000"/>
<g fill="#000000"><use href="#b11" x="38" y="126"/><use href="#b24" x="45" y="126"/><use href="#b24" x="52" y="126"/><use href="#b14" x="59" y="126"/><use href="#b23" x="66" y="126"/><use href="#b25" x="73" y="126"/><use href="#b26" x="80" y="126"/><use href="#b27" x="87" y="126"/></g>
<g fill="#2222aa"><use href="#s9" x="349" y="111"/><use href="#s1" x="355" y="111"/><use href="#s2" x="361" y="111"/><use href="#s4" x="367" y="111"/></g>
<g fill="#000000"><use href="#s8" x="343" y="145"/><use href="#s10" x="349" y="145"/><use href="#s2" x="355" y="145"/><use href="#s5" x="361" y="145"/></g>
<rect x="97" y="165" width="1" height="28" fill="#000000"/>
<g fill="#000000"><use href="#b11" x="24" y="171"/><use href="#b24" x="31" y="171"/><use href="#b11" x="38" y="171"/><use href="#b14" x="45" y="171"/><use href="#b28" x="52" y="171"/><use href="#b19" x="59" y="171"/><use href="#b29" x="66" y="171"/><use href="#b20" x="73" y="171"/><use href="#b23" x="80" y="171"/><use href="#b30" x="87" y="171"/></g>
<g fill="#000000"><use href="#s1" x="482" y="161"/><use href="#s3" x="488" y="161"/><use href="#s1" x="494" y="161"/></g>
<rect x="97" y="210" width="1" height="28" fill="#000000"/>
<g fill="#000000"><use href="#b11" x="17" y="216"/><use href="#b24" x="24" y="216"/><use href="#b31" x="31" y="216"/><use href="#b14" x="38" y="216"/><use href="#b22" x="45" y="216"/><use href="#b32" x="52" y="216"/><use href="#b33" x="59" y="216"/><use href="#b23" x="66" y="216"/><use href="#b17" x="73" y="216"/><use href="#b27" x="80" y="216"/><use href="#b20" x="87" y="216"/></g>
<g fill="#000000"><use href="#s5" x="221" y="206"/><use href="#s1" x="227" y="206"/><use href="#s2" x="233" y="206"/><use href="#s9" x="239" y="206"/></g>
<rect x="97" y="255" width="1" height="28" fill="#000000"/>
<g fill="#000000"><use href="#b11" x="3" y="261"/><use href="#b24" x="10" y="261"/><use href="#b21" x="17" y="261"/><use href="#b14" x="24" y="261"/><use href="#b27" x="31" y="261"/><use href="#b17" x="38" y="261"/><use href="#b27" x="45" y="261"/><use href="#b34" x="52" y="261"/><use href="#b29" x="59" y="261"/><use href="#b20" x="66" y="261"/><use href="#b35" x="73" y="261"/><use href="#b36" x="80" y="261"/><use href="#b37" x="87" y="261"/></g>
<g fill="#000000"><use href="#s3" x="767" y="251"/><use href="#s0" x="773" y="251"/><use href="#s10" x="779" y="251"/></g>
<rect x="97" y="300" width="1" height="28" fill="#000000"/>
<g fill="#000000"><use href="#b11" x="10" y="306"/><use href="#b24" x="17" y="306"/><use href="#b38" x="24" y="306"/><use href="#b14" x="31" y="306"/><use href="#b26" x="38" y="306"/><use href="#b19" x="45" y="306"/><use href="#b20" x="52" y="306"/><use href="#b26" x="59" y="306"/><use href="#b25" x="66" y="306"/><use href="#b19" x="73" y="306"/><use href="#b24" x="80" y="306"/><use href="#b39" x="87" y="306"/></g>
<g fill="#000000"><use href="#s8" x="339" y="296"/><use href="#s9" x="345" y="296"/><use href="#s2" x="351" y="296"/><use href="#s1" x="357" y="296"/></g>
<rect x="97" y="345" width="1" height="28" fill="#000000"/>
<g fill="#000000"><use href="#b11" x="38" y="351"/><use href="#b11" x="45" y="351"/><use href="#b11" x="52" y="351"/><use href="#b14" x="59" y="351"/><use href="#b40" x="66" y="351"/><use href="#b17" x="73" y="351"/><use href="#b23" x="80" y="351"/><use href="#b39" x="87" y="351"/></g>
<g fill="#2222aa"><use href="#s3" x="178" y="336"/><use href="#s9" x="184" y="336"/><use href="#s2" x="190" y="336"/><use href="#s6" x="196" y="336"/></g>
<g fill="#000000"><use href="#s3" x="176" y="370"/><use href="#s8" x="182" y="370"/><use href="#s2" x="188" y="370"/><use href="#s10" x="194" y="370"/></g>
<rect x="97" y="390" width="1" height="28" fill="#000000"/>
<g fill="#000000"><use href="#b11" x="24" y="396"/><use href="#b11" x="31" y="396"/><use href="#b38" x="38" y="396"/><use href="#b14" x="45" y="396"/><use href="#b39" x="52" y="396"/><use href="#b19" x="59" y="396"/><use href="#b17" x="66" y="396"/><use href="#b26" x="73" y="396"/><use href="#b41" x="80" y="396"/><use href="#b41" x="87" y="396"/></g>
<g fill="#000000"><use href="#s7" x="294" y="386"/><use href="#s5" x="300" y="386"/><use href="#s2" x="306" y="386"/><use href="#s3" x="312" y="386"/></g>
<rect x="97" y="435" width="1" height="28" fill="#000000"/>
<g fill="#000000"><use href="#b11" x="24" y="441"/><use href="#b31" x="31" y="441"/><use href="#b13" x="38" y="441"/><use href="#b14" x="45" y="441"/><use href="#b20" x="52" y="441"/><use href="#b33" x="59" y="441"/><use href="#b30" x="66" y="441"/><use href="#b26" x="73" y="441"/><use href="#b19" x="80" y="441"/><use href="#b42" x="87" y="441"/></g>
<g fill="#000000"><use href="#s5" x="241" y="431"/><use href="#s8" x="247" y="431"/><use href="#s2" x="253" y="431"/><use href="#s10" x="259" y="431"/></g>
<rect x="97" y="480" width="1" height="28" fill="#000000"/>
<g fill="#000000"><use href="#b11" x="24" y="486"/><use href="#b31" x="31" y="486"/><use href="#b24" x="38" y="486"/><use href="#b14" x="45" y="486"/><use href="#b30" x="52" y="486"/><use href="#b33" x="59" y="486"/><use href="#b18" x="66" y="486"/><use href="#b32" x="73" y="486"/><use href="#b17" x="80" y="486"/><use href="#b43" x="87" y="486"/></g>
<g fill="#2222aa"><use href="#s7" x="285" y="471"/><use href="#s1" x="291" y="471"/><use href="#s2" x="297" y="471"/><use href="#s7" x="303" y="471"/></g>
<g fill="#000000"><use href="#s6" x="255" y="505"/><use href="#s3" x="261" y="505"/><use href="#s2" x="267" y="505"/><use href="#s3" x="273" y="505"/></g>
<rect x="97" y="525" width="1" height="28" fill="#000000"/>
<g fill="#000000"><use href="#b11" x="10" y="531"/><use href="#b31" x="17" y="531"/><use href="#b11" x="24" y="531"/><use href="#b14" x="31" y="531"/><use href="#b27" x="38" y="531"/><use href="#b17" x="45" y="531"/><use href="#b26" x="52" y="531"/><use href="#b27" x="59" y="531"/><use href="#b29" x="66" y="531"/><use href="#b26" x="73" y="531"/><use href="#b25" x="80" y="531"/><use href="#b42" x="87" y="531"/></g>
<g fill="#2222aa"><use href="#s6" x="254" y="516"/><use href="#s1" x="260" y="516"/><use href="#s2" x="266" y="516"/><use href="#s10" x="272" y="516"/></g>
<g fill="#000000"><use href="#s5" x="247" y="550"/><use href="#s10" x="253" y="550"/><use href="#s2" x="259" y="550"/><use href="#s10" x="265" y="550"/></g>
<rect x="97" y="570" width="1" height="28" fill="#000000"/>
<g fill="#000000"><use href="#b11" x="10" y="576"/><use href="#b31" x="17" y="576"/><use href="#b44" x="24" y="576"/><use href="#b14" x="31" y="576"/><use href="#b45" x="38" y="576"/><use href="#b19" x="45" y="576"/><use href="#b23" x="52" y="576"/><use href="#b20" x="59" y="576"/><use href="#b46" x="66" y="576"/><use href="#b36" x="73" y="576"/><use href="#b47" x="80" y="576"/><use href="#b36" x="87" y="576"/></g>
<g fill="#2222aa"><use href="#s7" x="291" y="561"/><use href="#s4" x="297" y="561"/><use href="#s2" x="303" y="561"/><use href="#s5" x="309" y="561"/></g>
<g fill="#000000"><use href="#s7" x="287" y="595"/><use href="#s3" x="293" y="595"/><use href="#s2" x="299" y="595"/><use href="#s1" x="305" y="595"/></g>
<rect x="97" y="615" width="1" height="28" fill="#000000"/>
<g fill="#000000"><use href="#b11" x="31" y="621"/><use href="#b21" x="38" y="621"/><use href="#b31" x="45" y="621"/><use href="#b14" x="52" y="621"/><use href="#b34" x="59" y="621"/><use href="#b33" x="66" y="621"/><use href="#b40" x="73" y="621"/><use href="#b34" x="80" y="621"/><use href="#b33" x="87" y="621"/></g>
<g fill="#2222aa"><use href="#s6" x="261" y="606"/><use href="#s5" x="267" y="606"/><use href="#s2" x="273" y="606"/><use href="#s3" x="279" y="606"/></g>
<g fill="#000000"><use href="#s5" x="242" y="640"/><use href="#s9" x="248" y="640"/><use href="#s2" x="254" y="640"/><use href="#s3" x="260" y="640"/></g>
<rect x="97" y="660" width="1" height="28" fill="#000000"/>
<g fill="#000000"><use href="#b11" x="45" y="666"/><use href="#b38" x="52" y="666"/><use href="#b13" x="59" y="666"/><use href="#b14" x="66" y="666"/><use href="#b26" x="73" y="666"/><use href="#b15" x="80" y="666"/><use href="#b23" x="87" y="666"/></g>
<g fill="#000000"><use href="#s1" x="520" y="656"/><use href="#s4" x="526" y="656"/><use href="#s4" x="532" y="656"/></g>
<rect x="97" y="705" width="1" height="28" fill="#000000"/>
<g fill="#000000"><use href="#b11" x="45" y="711"/><use href="#b48" x="52" y="711"/><use href="#b12" x="59" y="711"/><use href="#b14" x="66" y="711"/><use href="#b16" x="73" y="711"/><use href="#b32" x="80" y="711"/><use href="#b49" x="87" y="711"/></g>
<g fill="#000000"><use href="#s10" x="392" y="701"/><use href="#s5" x="398" y="701"/><use href="#s2" x="404" y="701"/><use href="#s6" x="410" y="701"/></g>
<rect x="97" y="750" width="1" height="28" fill="#000000"/>
<g fill="#000000"><use href="#b11" x="17" y="756"/><use href="#b48" x="24" y="756"/><use href="#b50" x="31" y="756"/><use href="#b14" x="38" y="756"/><use href="#b20" x="45" y="756"/><use href="#b30" x="52" y="756"/><use href="#b51" x="59" y="756"/><use href="#b25" x="66" y="756"/><use href="#b40" x="73" y="756"/><use href="#b42" x="80" y="756"/><use href="#b24" x="87" y="756"/></g>
<g fill="#2222aa"><use href="#s9" x="346" y="741"/><use href="#s0" x="352" y="741"/><use href="#s2" x="358" y="741"/><use href="#s3" x="364" y="741"/></g>
<g fill="#000000"><use href="#s9" x="349" y="775"/><use href="#s1" x="355" y="775"/><use href="#s2" x="361" y="775"/><use href="#s3" x="367" y="775"/></g>
<rect x="97" y="37" width="364" height="2" fill="#2222aa"/>
<rect x="459" y="35" width="1" height="7" fill="#2222aa"/>
<rect x="460" y="35" width="1" height="7" fill="#2222aa"/>
<rect x="97" y="82" width="146" height="2" fill="#2222aa"/>
<rect x="242" y="80" width="1" height="7" fill="#2222aa"/>
<rect x="97" y="127" width="265" height="2" fill="#2222aa"/>
<rect x="361" y="125" width="1" height="7" fill="#2222aa"/>
<rect x="97" y="352" width="94" height="2" fill="#2222aa"/>
<rect x="190" y="350" width="1" height="7" fill="#2222aa"/>
<rect x="97" y="487" width="202" height="2" fill="#2222aa"/>
<rect x="296" y="485" width="1" height="7" fill="#2222aa"/>
<rect x="297" y="485" width="1" height="7" fill="#2222aa"/>
<rect x="298" y="485" width="1" height="7" fill="#2222aa"/>
<rect x="97" y="532" width="170" height="2" fill="#2222aa"/>
<rect x="266" y="530" width="1" height="7" fill="#2222aa"/>
<rect x="97" y="577" width="207" height="2" fill="#2222aa"/>
<rect x="303" y="575" width="1" height="7" fill="#2222aa"/>
<rect x="97" y="622" width="178" height="2" fill="#2222aa"/>
<rect x="272" y="620" width="1" height="7" fill="#2222aa"/>
<rect x="273" y="620" width="1" height="7" fill="#2222aa"/>
<rect x="274" y="620" width="1" height="7" fill="#2222aa"/>
<rect x="97" y="757" width="268" height="2" fill="#2222aa"/>
<rect x="350" y="755" width="1" height="7" fill="#2222aa"/>
<rect x="358" y="755" width="1" height="7" fill="#2222aa"/>
<rect x="364" y="755" width="1" height="7" fill="#2222aa"/>
<rect x="322" y="22" width="2" height="765" fill="#000000"/>
<rect x="97" y="49" width="364" height="2" fill="#000000"/>
<rect x="459" y="46" width="1" height="7" fill="#000000"/>
<rect x="460" y="46" width="1" height="7" fill="#000000"/>
<rect x="97" y="94" width="130" height="2" fill="#000000"/>
<rect x="226" y="91" width="1" height="7" fill="#000000"/>
<rect x="97" y="139" width="259" height="2" fill="#000000"/>
<rect x="355" y="136" width="1" height="7" fill="#000000"/>
<rect x="97" y="177" width="395" height="4" fill="#000000"/>
<rect x="491" y="173" width="1" height="14" fill="#000000"/>
<rect x="97" y="222" width="137" height="4" fill="#000000"/>
<rect x="233" y="218" width="1" height="14" fill="#000000"/>
<rect x="97" y="267" width="687" height="4" fill="#000000"/>
<rect x="769" y="263" width="1" height="14" fill="#000000"/>
<rect x="776" y="263" width="1" height="14" fill="#000000"/>
<rect x="783" y="263" width="1" height="14" fill="#000000"/>
<rect x="97" y="312" width="255" height="4" fill="#000000"/>
<rect x="350" y="308" width="1" height="14" fill="#000000"/>
<rect x="351" y="308" width="1" height="14" fill="#000000"/>
<rect x="97" y="364" width="92" height="2" fill="#000000"/>
<rect x="188" y="361" width="1" height="7" fill="#000000"/>
<rect x="97" y="402" width="210" height="4" fill="#000000"/>
<rect x="305" y="398" width="1" height="14" fill="#000000"/>
<rect x="306" y="398" width="1" height="14" fill="#000000"/>
<rect x="97" y="447" width="160" height="4" fill="#000000"/>
<rect x="252" y="443" width="1" height="14" fill="#000000"/>
<rect x="253" y="443" width="1" height="14" fill="#000000"/>
<rect x="256" y="443" width="1" height="14" fill="#000000"/>
<rect x="97" y="499" width="171" height="2" fill="#000000"/>
<rect x="267" y="496" width="1" height="7" fill="#000000"/>
<rect x="97" y="544" width="163" height="2" fill="#000000"/>
<rect x="259" y="541" width="1" height="7" fill="#000000"/>
<rect x="97" y="589" width="203" height="2" fill="#000000"/>
<rect x="299" y="586" width="1" height="7" fill="#000000"/>
<rect x="97" y="634" width="158" height="2" fill="#000000"/>
<rect x="237" y="631" width="1" height="7" fill="#000000"/>
<rect x="254" y="631" width="1" height="7" fill="#000000"/>
<rect x="97" y="672" width="434" height="4" fill="#000000"/>
<rect x="528" y="668" width="1" height="14" fill="#000000"/>
<rect x="529" y="668" width="1" height="14" fill="#000000"/>
<rect x="530" y="668" width="1" height="14" fill="#000000"/>
<rect x="97" y="717" width="308" height="4" fill="#000000"/>
<rect x="403" y="713" width="1" height="14" fill="#000000"/>
<rect x="404" y="713" width="1" height="14" fill="#000000"/>
<rect x="97" y="769" width="265" height="2" fill="#000000"/>
<rect x="357" y="766" width="1" height="7" fill="#000000"/>
<rect x="361" y="766" width="1" height="7" fill="#000000"/>
<g fill="#000000"><use href="#b52" x="171" y="788"/><use href="#b53" x="178" y="788"/><use href="#b54" x="185" y="788"/><use href="#b55" x="192" y="788"/><use href="#b49" x="199" y="788"/><use href="#b30" x="206" y="788"/><use href="#b56" x="213" y="788"/><use href="#b15" x="220" y="788"/><use href="#b17" x="227" y="788"/><use href="#b20" x="234" y="788"/><use href="#b19" x="241" y="788"/><use href="#b50" x="248" y="788"/><use href="#b13" x="255" y="788"/><use href="#b13" x="262" y="788"/><use href="#b21" x="269" y="788"/><use href="#b57" x="283" y="788"/><use href="#b21" x="297" y="788"/><use href="#b44" x="304" y="788"/><use href="#b14" x="311" y="788"/><use href="#b24" x="318" y="788"/></g>
<g fill="#2222aa"><use href="#b52" x="269" y="810"/><use href="#b53" x="276" y="810"/><use href="#b54" x="283" y="810"/><use href="#b55" x="290" y="810"/><use href="#b49" x="297" y="810"/><use href="#b30" x="304" y="810"/><use href="#b50" x="311" y="810"/><use href="#b13" x="318" y="810"/><use href="#b13" x="325" y="810"/><use href="#b21" x="332" y="810"/><use href="#b57" x="346" y="810"/><use href="#b38" x="360" y="810"/><use href="#b12" x="367" y="810"/><use href="#b14" x="374" y="810"/><use href="#b11" x="381" y="810"/></g>
</svg>
<span class="ts" style="left:100px;top:1px">0</span>
<span class="ts" style="left:118px;top:1px">10.0</span>
<span class="ts" style="left:150px;top:1px">20.0</span>
<span class="ts" style="left:183px;top:1px">30.0</span>
<span class="ts" style="left:215px;top:1px">40.0</span>
<span class="ts" style="left:248px;top:1px">50.0</span>
<span class="ts" style="left:280px;top:1px">60.0</span>
<span class="ts" style="left:313px;top:1px">70.0</span>
<span class="ts" style="left:345px;top:1px">80.0</span>
<span class="ts" style="left:377px;top:1px">90.0</span>
<span class="ts" style="left:413px;top:1px">100</span>
<span class="ts" style="left:445px;top:1px">110</span>
<span class="ts" style="left:478px;top:1px">120</span>
<span class="ts" style="left:510px;top:1px">130</span>
<span class="ts" style="left:543px;top:1px">140</span>
<span class="ts" style="left:575px;top:1px">150</span>
<span class="ts" style="left:608px;top:1px">160</span>
<span class="ts" style="left:640px;top:1px">170</span>
<span class="ts" style="left:673px;top:1px">180</span>
<span class="ts" style="left:705px;top:1px">190</span>
<span class="ts" style="left:738px;top:1px">200</span>
<span class="ts" style="left:775px;top:1px">215</span>
<span class="tb" style="left:24px;top:36px">410.bwaves</span>
<span class="ts" style="left:450px;top:21px">111</span>
<span class="ts" style="left:450px;top:55px">111</span>
<span class="tb" style="left:24px;top:81px">416.gamess</span>
<span class="ts" style="left:230px;top:66px">44.5</span>
<span class="ts" style="left:214px;top:100px">39.6</span>
<span class="tb" style="left:38px;top:126px">433.milc</span>
<span class="ts" style="left:349px;top:111px">81.3</span>
<span class="ts" style="left:343px;top:145px">79.4</span>
<span class="tb" style="left:24px;top:171px">434.zeusmp</span>
<span class="ts" style="left:482px;top:161px">121</span>
<span class="tb" style="left:17px;top:216px">435.gromacs</span>
<span class="ts" style="left:221px;top:206px">41.8</span>
<span class="tb" style="left:3px;top:261px">436.cactusADM</span>
<span class="ts" style="left:767px;top:251px">209</span>
<span class="tb" style="left:10px;top:306px">437.leslie3d</span>
<span class="ts" style="left:339px;top:296px">78.1</span>
<span class="tb" style="left:38px;top:351px">444.namd</span>
<span class="ts" style="left:178px;top:336px">28.5</span>
<span class="ts" style="left:176px;top:370px">27.9</span>
<span class="tb" style="left:24px;top:396px">447.dealII</span>
<span class="ts" style="left:294px;top:386px">64.2</span>
<span class="tb" style="left:24px;top:441px">450.soplex</span>
<span class="ts" style="left:241px;top:431px">47.9</span>
<span class="tb" style="left:24px;top:486px">453.povray</span>
<span class="ts" style="left:285px;top:471px">61.6</span>
<span class="ts" style="left:255px;top:505px">52.2</span>
<span class="tb" style="left:10px;top:531px">454.calculix</span>
<span class="ts" style="left:254px;top:516px">51.9</span>
<span class="ts" style="left:247px;top:550px">49.9</span>
<span class="tb" style="left:10px;top:576px">459.GemsFDTD</span>
<span class="ts" style="left:291px;top:561px">63.4</span>
<span class="ts" style="left:287px;top:595px">62.1</span>
<span class="tb" style="left:31px;top:621px">465.tonto</span>
<span class="ts" style="left:261px;top:606px">54.2</span>
<span class="ts" style="left:242px;top:640px">48.2</span>
<span class="tb" style="left:45px;top:666px">470.lbm</span>
<span class="ts" style="left:520px;top:656px">133</span>
<span class="tb" style="left:45px;top:711px">481.wrf</span>
<span class="ts" style="left:392px;top:701px">94.5</span>
<span class="tb" style="left:17px;top:756px">482.sphinx3</span>
<span class="ts" style="left:346px;top:741px">80.2</span>
<span class="ts" style="left:349px;top:775px">81.2</span>
<span class="tb" style="left:171px;top:788px">SPECfp_base2006 = 69.3</span>
<span class="tb" style="left:269px;top:810px">SPECfp2006 = 71.4</span>
</div>
</body>
</html>
